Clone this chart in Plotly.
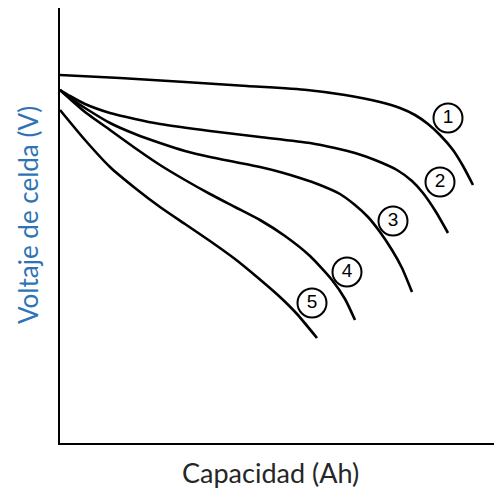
import plotly.graph_objects as go

# Arbitrary units (capacity, cell voltage)
c1_x = [0, 60, 125, 187, 247, 285, 320, 340, 355, 368, 380, 393, 403, 413]
c1_y = [368, 365, 361, 357, 353, 348, 341, 335, 328, 319, 308, 293, 277, 258]

c2_x = [0, 10, 25, 50, 75, 100, 150, 200, 250, 275, 295, 315, 337, 352, 363, 376, 388]
c2_y = [353, 347, 339, 330, 324, 319, 312, 306, 300, 295, 290, 283, 273, 262, 250, 231, 210]

c3_x = [0, 10, 25, 50, 75, 100, 125, 150, 175, 200, 220, 240, 260, 280, 295, 308, 320, 332, 342, 352]
c3_y = [353, 345, 335, 320, 309, 300, 292, 286, 281, 276, 271, 265, 258, 249, 238, 226, 211, 193, 175, 151]

c4_x = [0, 10, 25, 50, 75, 100, 125, 150, 175, 200, 225, 250, 272, 285, 295]
c4_y = [353, 344, 331, 313, 295, 278, 263, 249, 236, 223, 207, 187, 163, 144, 123]

c5_x = [0, 25, 50, 75, 100, 125, 150, 175, 197, 220, 237, 257]
c5_y = [333, 303, 276, 255, 236, 219, 202, 184, 166, 146, 129, 105]

label_text = ["1", "2", "3", "4", "5"]
label_x = [388, 380, 333, 287, 252]
label_y = [325, 261, 222, 171, 140]

curves = [(c1_x, c1_y), (c2_x, c2_y), (c3_x, c3_y), (c4_x, c4_y), (c5_x, c5_y)]

fig = go.Figure()
for xs, ys in curves:
    fig.add_trace(go.Scatter(
        x=xs, y=ys, mode="lines",
        line=dict(color="black", width=2.6, shape="spline", smoothing=0.6),
        hoverinfo="skip", showlegend=False))

fig.add_trace(go.Scatter(
    x=label_x, y=label_y, mode="markers+text", text=label_text,
    textposition="middle center",
    textfont=dict(family="Liberation Sans, Arial", size=19, color="black"),
    marker=dict(symbol="circle", size=29, color="white",
                line=dict(color="black", width=2)),
    hoverinfo="skip", showlegend=False))

fig.update_layout(
    width=494, height=490,
    margin=dict(l=60, r=0, t=8, b=47),
    paper_bgcolor="white", plot_bgcolor="white",
    xaxis=dict(range=[0, 434], showgrid=False, zeroline=False,
               showticklabels=False, ticks="", showline=True,
               linecolor="black", linewidth=2),
    yaxis=dict(range=[0, 435], showgrid=False, zeroline=False,
               showticklabels=False, ticks="", showline=True,
               linecolor="black", linewidth=2),
    annotations=[
        dict(text="Capacidad (Ah)", xref="paper", yref="paper",
             x=0.484, y=-0.0667, showarrow=False,
             xanchor="center", yanchor="middle",
             font=dict(family="Lato, Open Sans", size=27, color="#262626")),
        dict(text="Voltaje de celda (V)", xref="paper", yref="paper",
             x=-0.0737, y=0.524, showarrow=False, textangle=-90,
             xanchor="center", yanchor="middle",
             font=dict(family="Lato, Open Sans", size=26, color="#2E74B5")),
    ],
)

fig.write_html("out.html")
